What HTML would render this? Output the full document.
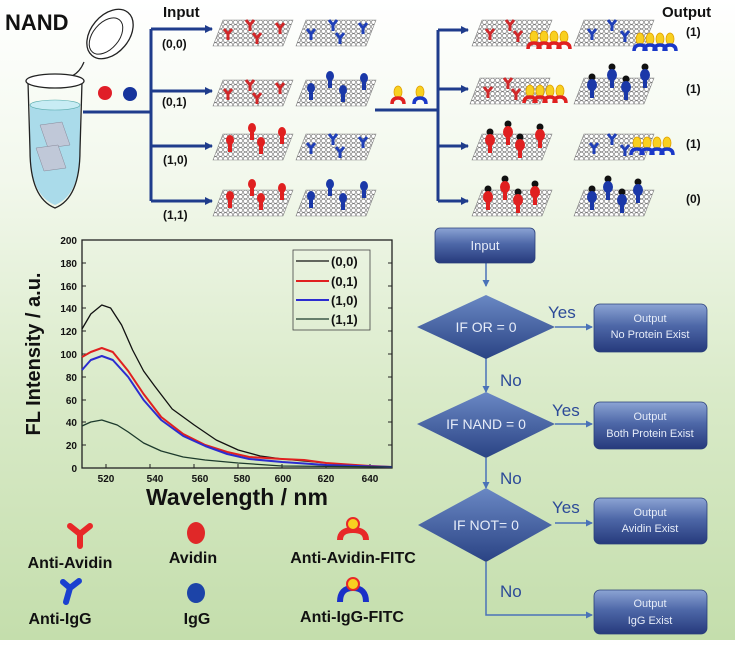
<!DOCTYPE html>
<html><head><meta charset="utf-8"><style>
html,body{margin:0;padding:0;}
body{width:735px;height:640px;overflow:hidden;background:linear-gradient(180deg,#ffffff 0%,#f2f8ec 28%,#d9eac8 62%,#c4deac 100%);font-family:"Liberation Sans",sans-serif;}
svg text{font-family:"Liberation Sans",sans-serif;}
</style></head><body>
<svg width="735" height="640" viewBox="0 0 735 640" xmlns="http://www.w3.org/2000/svg">
<defs>
<pattern id="hex" width="5" height="4.5" patternUnits="userSpaceOnUse">
<rect width="5" height="4.5" fill="#fff"/>
<circle cx="2.5" cy="2.25" r="2.1" fill="none" stroke="#777" stroke-width="0.6"/>
</pattern>
<g id="sheet"><polygon points="10,0 80,0 70,26 0,26" fill="url(#hex)" stroke="#888" stroke-width="0.6"/></g>
<g id="ry"><path d="M0,0 l-4,-5 M0,0 l4,-5 M0,0 v6" stroke="#d0282a" stroke-width="3" fill="none"/></g>
<g id="by"><path d="M0,0 l-4,-5 M0,0 l4,-5 M0,0 v6" stroke="#2040b8" stroke-width="3" fill="none"/></g>
<g id="rp"><ellipse cx="0" cy="-4" rx="4" ry="5" fill="#e02020"/><path d="M0,0 v8" stroke="#e02020" stroke-width="4"/></g>
<g id="bp"><ellipse cx="0" cy="-4" rx="4" ry="5" fill="#1a38a8"/><path d="M0,0 v8" stroke="#1a38a8" stroke-width="4"/></g>
<g id="rpk"><circle cx="0" cy="-11" r="3.5" fill="#111"/><ellipse cx="0" cy="-3" rx="5" ry="6" fill="#e02020"/><path d="M0,2 v8" stroke="#e02020" stroke-width="4"/></g>
<g id="bpk"><circle cx="0" cy="-11" r="3.5" fill="#111"/><ellipse cx="0" cy="-3" rx="5" ry="6" fill="#1a38a8"/><path d="M0,2 v8" stroke="#1a38a8" stroke-width="4"/></g>
<g id="rf"><ellipse cx="0" cy="0" rx="4" ry="6" fill="#f8d020" stroke="#e0a000" stroke-width="0.8"/><path d="M-6,12 q0,-6 6,-6 q6,0 6,6" stroke="#e02020" stroke-width="3.5" fill="none"/></g>
<g id="bf"><ellipse cx="0" cy="0" rx="4" ry="6" fill="#f8d020" stroke="#e0a000" stroke-width="0.8"/><path d="M-6,12 q0,-6 6,-6 q6,0 6,6" stroke="#1a38c8" stroke-width="3.5" fill="none"/></g>
<linearGradient id="gbox" x1="0" y1="0" x2="0" y2="1"><stop offset="0" stop-color="#8ca4d4"/><stop offset="0.45" stop-color="#4e68a8"/><stop offset="1" stop-color="#263a7c"/></linearGradient>
<linearGradient id="gdia" x1="0" y1="0" x2="0" y2="1"><stop offset="0" stop-color="#6a88c4"/><stop offset="1" stop-color="#2a4384"/></linearGradient>
<marker id="ah" markerWidth="8" markerHeight="8" refX="7" refY="4" orient="auto" markerUnits="userSpaceOnUse"><path d="M0,0 L8,4 L0,8 z" fill="#1f3c8c"/></marker>
<marker id="ah2" markerWidth="7" markerHeight="7" refX="6" refY="3.5" orient="auto" markerUnits="userSpaceOnUse"><path d="M0,0 L7,3.5 L0,7 z" fill="#4a72b8"/></marker>
</defs>

<text x="5" y="30" font-size="22" font-weight="bold" fill="#111">NAND</text>
<text x="163" y="17" font-size="15" font-weight="bold" fill="#111">Input</text>
<text x="662" y="17" font-size="15" font-weight="bold" fill="#111">Output</text>
<ellipse cx="110" cy="34" rx="19" ry="28" transform="rotate(40 110 34)" fill="#fff" stroke="#222" stroke-width="1.3"/>
<ellipse cx="106" cy="36" rx="13" ry="21" transform="rotate(40 106 36)" fill="none" stroke="#222" stroke-width="1"/>
<path d="M72,76 q8,-4 12,-14" stroke="#222" fill="none" stroke-width="1.2"/>
<path d="M30,105 q25,-5 50,0 L80,150 q0,45 -25,55 q-25,-10 -25,-55 z" fill="#aadbea"/>
<path d="M28,82 L30,150 q0,48 25,58 q25,-10 25,-58 L82,82" fill="none" stroke="#222" stroke-width="1.3"/>
<ellipse cx="55" cy="81" rx="29" ry="7" fill="#fff" stroke="#222" stroke-width="1.3"/>
<ellipse cx="55" cy="105" rx="25" ry="5" fill="#c8ecf4" stroke="#5aa" stroke-width="0.6"/>
<polygon points="40,125 62,122 70,145 48,148" fill="#c0c8d8" stroke="#889" stroke-width="0.5"/>
<polygon points="36,148 58,145 66,168 44,171" fill="#c0c8d8" stroke="#889" stroke-width="0.5"/>
<circle cx="105" cy="93" r="7" fill="#e01e28"/>
<circle cx="130" cy="94" r="7" fill="#16349c"/>

<g stroke="#1f3c8c" stroke-width="3" fill="none">
<path d="M83,112 H151"/>
<path d="M151,29 V201"/>
<path d="M151,29 H212" marker-end="url(#ah)"/>
<path d="M151,91 H212" marker-end="url(#ah)"/>
<path d="M151,146 H212" marker-end="url(#ah)"/>
<path d="M151,201 H212" marker-end="url(#ah)"/>
<path d="M375,110 H438"/>
<path d="M438,30 V201"/>
<path d="M438,30 H468" marker-end="url(#ah)"/>
<path d="M438,89 H468" marker-end="url(#ah)"/>
<path d="M438,146 H468" marker-end="url(#ah)"/>
<path d="M438,201 H468" marker-end="url(#ah)"/>
</g>
<g font-size="12" font-weight="bold" fill="#111">
<text x="162" y="48">(0,0)</text><text x="162" y="106">(0,1)</text>
<text x="163" y="164">(1,0)</text><text x="163" y="219">(1,1)</text>
<text x="686" y="36">(1)</text><text x="686" y="93">(1)</text>
<text x="686" y="148">(1)</text><text x="686" y="203">(0)</text>
</g>
<use href="#rf" x="398" y="92"/><use href="#bf" x="420" y="92"/>

<use href="#sheet" x="213" y="20"/><use href="#sheet" x="296" y="20"/>
<use href="#sheet" x="213" y="80"/><use href="#sheet" x="296" y="80"/>
<use href="#sheet" x="213" y="134"/><use href="#sheet" x="296" y="134"/>
<use href="#sheet" x="213" y="190"/><use href="#sheet" x="296" y="190"/>
<use href="#ry" x="250" y="25"/><use href="#ry" x="228" y="34"/><use href="#ry" x="257" y="38"/><use href="#ry" x="280" y="28"/>
<use href="#by" x="333" y="25"/><use href="#by" x="311" y="34"/><use href="#by" x="340" y="38"/><use href="#by" x="363" y="28"/>
<use href="#ry" x="250" y="85"/><use href="#ry" x="228" y="94"/><use href="#ry" x="257" y="98"/><use href="#ry" x="280" y="88"/>
<use href="#bp" x="330" y="80"/><use href="#bp" x="311" y="92"/><use href="#bp" x="343" y="94"/><use href="#bp" x="364" y="82"/>
<use href="#rp" x="252" y="132"/><use href="#rp" x="230" y="144"/><use href="#rp" x="261" y="146"/><use href="#rp" x="282" y="136"/>
<use href="#by" x="333" y="139"/><use href="#by" x="311" y="148"/><use href="#by" x="340" y="152"/><use href="#by" x="363" y="142"/>
<use href="#rp" x="252" y="188"/><use href="#rp" x="230" y="200"/><use href="#rp" x="261" y="202"/><use href="#rp" x="282" y="192"/>
<use href="#bp" x="330" y="188"/><use href="#bp" x="311" y="200"/><use href="#bp" x="343" y="202"/><use href="#bp" x="364" y="190"/>

<use href="#sheet" x="472" y="20"/><use href="#sheet" x="574" y="20"/>
<use href="#sheet" x="470" y="78"/><use href="#sheet" x="574" y="78"/>
<use href="#sheet" x="472" y="134"/><use href="#sheet" x="574" y="134"/>
<use href="#sheet" x="472" y="190"/><use href="#sheet" x="574" y="190"/>
<use href="#ry" x="510" y="25"/><use href="#ry" x="490" y="34"/><use href="#ry" x="518" y="36"/>
<use href="#rf" x="534" y="37"/><use href="#rf" x="544" y="37"/><use href="#rf" x="554" y="37"/><use href="#rf" x="564" y="37"/>
<use href="#by" x="612" y="25"/><use href="#by" x="592" y="34"/><use href="#by" x="625" y="36"/>
<use href="#bf" x="640" y="39"/><use href="#bf" x="650" y="39"/><use href="#bf" x="660" y="39"/><use href="#bf" x="670" y="39"/>
<use href="#ry" x="508" y="83"/><use href="#ry" x="488" y="92"/><use href="#ry" x="516" y="94"/>
<use href="#rf" x="530" y="91"/><use href="#rf" x="540" y="91"/><use href="#rf" x="550" y="91"/><use href="#rf" x="560" y="91"/>
<use href="#bpk" x="612" y="78"/><use href="#bpk" x="592" y="88"/><use href="#bpk" x="626" y="90"/><use href="#bpk" x="645" y="78"/>
<use href="#rpk" x="490" y="143"/><use href="#rpk" x="508" y="135"/><use href="#rpk" x="520" y="148"/><use href="#rpk" x="540" y="138"/>
<use href="#by" x="612" y="139"/><use href="#by" x="594" y="148"/><use href="#by" x="625" y="150"/>
<use href="#bf" x="637" y="143"/><use href="#bf" x="647" y="143"/><use href="#bf" x="657" y="143"/><use href="#bf" x="667" y="143"/>
<use href="#rpk" x="488" y="200"/><use href="#rpk" x="505" y="190"/><use href="#rpk" x="518" y="203"/><use href="#rpk" x="535" y="195"/>
<use href="#bpk" x="592" y="200"/><use href="#bpk" x="608" y="190"/><use href="#bpk" x="622" y="203"/><use href="#bpk" x="638" y="193"/>

<rect x="82" y="240" width="310" height="228" fill="none" stroke="#222" stroke-width="1.3"/>
<g stroke="#222" stroke-width="1">
<path d="M82,240 h4 M82,263 h4 M82,286 h4 M82,308 h4 M82,331 h4 M82,354 h4 M82,377 h4 M82,400 h4 M82,422 h4 M82,445 h4"/>
<path d="M392,263 h-4 M392,286 h-4 M392,308 h-4 M392,331 h-4 M392,354 h-4 M392,377 h-4 M392,400 h-4 M392,422 h-4 M392,445 h-4"/>
<path d="M106,468 v-4 M150,468 v-4 M194,468 v-4 M238,468 v-4 M282,468 v-4 M326,468 v-4 M370,468 v-4"/>
</g>
<g font-size="10" font-weight="bold" fill="#111" text-anchor="end">
<text x="77" y="244">200</text><text x="77" y="267">180</text><text x="77" y="290">160</text>
<text x="77" y="312">140</text><text x="77" y="335">120</text><text x="77" y="358">100</text>
<text x="77" y="381">80</text><text x="77" y="404">60</text><text x="77" y="426">40</text>
<text x="77" y="449">20</text><text x="77" y="472">0</text>
</g>
<g font-size="10" font-weight="bold" fill="#111" text-anchor="middle">
<text x="106" y="482">520</text><text x="155" y="482">540</text><text x="200" y="482">560</text>
<text x="242" y="482">580</text><text x="283" y="482">600</text><text x="326" y="482">620</text><text x="370" y="482">640</text>
</g>
<text x="237" y="505" font-size="23" font-weight="bold" fill="#111" text-anchor="middle">Wavelength / nm</text>
<text transform="translate(40,354) rotate(-90)" font-size="20" font-weight="bold" fill="#111" text-anchor="middle">FL Intensity / a.u.</text>
<g fill="none" stroke-linejoin="round">
<polyline stroke="#111" stroke-width="1.3" points="82,329 90.8,314 101.8,305 110.6,308 121.6,325 132.6,350 143.6,371 154.6,386 172.2,409 194.2,425 216.2,440 238.2,450 260.2,456 282.2,459 304.2,461 326.2,463 370,466 392,467"/>
<polyline stroke="#e02020" stroke-width="2" points="82,357 90.8,352 101.8,348 112.8,352 128.2,371 143.6,394 161.2,417 183.2,434 205.2,445 227.2,452 249.2,457 282.2,459 304.2,460 326.2,463 370,466 392,467"/>
<polyline stroke="#2c2cd0" stroke-width="2" points="82,370 90.8,360 101.8,356 112.8,360 128.2,377 143.6,400 161.2,420 183.2,436 205.2,446 227.2,454 249.2,459 282.2,462 326.2,465 392,467"/>
<polyline stroke="#1c3a2c" stroke-width="1.3" points="82,426 90.8,422 101.8,420 117.2,425 128.2,432 143.6,443 161.2,451 183.2,457 205.2,460 238,463 282,466 392,467"/>
</g>
<rect x="293" y="250" width="77" height="80" fill="none" stroke="#444" stroke-width="0.8"/>
<g stroke-width="2">
<path d="M296,261 h33" stroke="#111" stroke-width="1.3"/>
<path d="M296,281 h33" stroke="#e02020"/>
<path d="M296,300 h33" stroke="#2c2cd0"/>
<path d="M296,319 h33" stroke="#1c3a2c" stroke-width="1.3"/>
</g>
<g font-size="13" font-weight="bold" fill="#111">
<text x="331" y="266">(0,0)</text><text x="331" y="286">(0,1)</text>
<text x="331" y="305">(1,0)</text><text x="331" y="324">(1,1)</text>
</g>

<path d="M80,534 l-10,-8 M80,534 l10,-8 M80,534 v12" stroke="#e82828" stroke-width="6" fill="none" stroke-linecap="round"/>
<ellipse cx="196" cy="533" rx="9" ry="11" fill="#e02828"/>
<path d="M340,540 q0,-10 13,-10 q13,0 13,10" stroke="#e82828" stroke-width="6" fill="none"/><circle cx="353" cy="524" r="6" fill="#f8d020" stroke="#e82828" stroke-width="2"/>
<path d="M70,588 l-7,-6 M70,588 l9,-7 M70,588 l-4,14" stroke="#1a40d0" stroke-width="6" fill="none" stroke-linecap="round"/>
<ellipse cx="196" cy="593" rx="9" ry="10" fill="#1c44a8"/>
<path d="M340,602 q0,-14 13,-14 q13,0 13,14" stroke="#1a30c8" stroke-width="6" fill="none"/><circle cx="353" cy="584" r="6" fill="#f8d020" stroke="#e82828" stroke-width="2"/>
<g font-size="16" font-weight="bold" fill="#111" text-anchor="middle">
<text x="70" y="568">Anti-Avidin</text><text x="193" y="563">Avidin</text><text x="353" y="563">Anti-Avidin-FITC</text>
<text x="60" y="624">Anti-IgG</text><text x="197" y="624">IgG</text><text x="352" y="622">Anti-IgG-FITC</text>
</g>

<g stroke="#4a72b8" stroke-width="1.5" fill="none">
<path d="M486,263 V286" marker-end="url(#ah2)"/>
<path d="M486,352 V392" marker-end="url(#ah2)"/>
<path d="M486,458 V488" marker-end="url(#ah2)"/>
<path d="M486,562 V615 H592" marker-end="url(#ah2)"/>
<path d="M555,327 H592" marker-end="url(#ah2)"/>
<path d="M555,424 H592" marker-end="url(#ah2)"/>
<path d="M555,523 H592" marker-end="url(#ah2)"/>
</g>
<rect x="435" y="228" width="100" height="35" rx="5" fill="url(#gbox)" stroke="#2a3f7a" stroke-width="0.8"/>
<text x="485" y="250" font-size="13" fill="#e6ecf8" text-anchor="middle">Input</text>
<polygon points="486,295 555,327 486,359 417,327" fill="url(#gdia)"/>
<text x="486" y="332" font-size="14" fill="#e6ecf8" text-anchor="middle">IF OR = 0</text>
<polygon points="486,392 555,424 486,458 417,424" fill="url(#gdia)"/>
<text x="486" y="429" font-size="14" fill="#e6ecf8" text-anchor="middle">IF NAND = 0</text>
<polygon points="486,488 552,525 486,562 418,525" fill="url(#gdia)"/>
<text x="486" y="530" font-size="14" fill="#e6ecf8" text-anchor="middle">IF NOT= 0</text>
<g font-size="17" fill="#2c4a98">
<text x="548" y="318">Yes</text><text x="552" y="416">Yes</text><text x="552" y="513">Yes</text>
<text x="500" y="386">No</text><text x="500" y="484">No</text><text x="500" y="597">No</text>
</g>
<g fill="url(#gbox)" stroke="#2a3f7a" stroke-width="0.8">
<rect x="594" y="304" width="113" height="48" rx="6"/>
<rect x="594" y="402" width="113" height="47" rx="6"/>
<rect x="594" y="498" width="113" height="46" rx="6"/>
<rect x="594" y="590" width="113" height="44" rx="6"/>
</g>
<g font-size="11" fill="#e6ecf8" text-anchor="middle">
<text x="650" y="322">Output</text><text x="650" y="338">No Protein Exist</text>
<text x="650" y="420">Output</text><text x="650" y="437">Both Protein Exist</text>
<text x="650" y="516">Output</text><text x="650" y="532">Avidin Exist</text>
<text x="650" y="607">Output</text><text x="650" y="624">IgG Exist</text>
</g>
</svg>
</body></html>
